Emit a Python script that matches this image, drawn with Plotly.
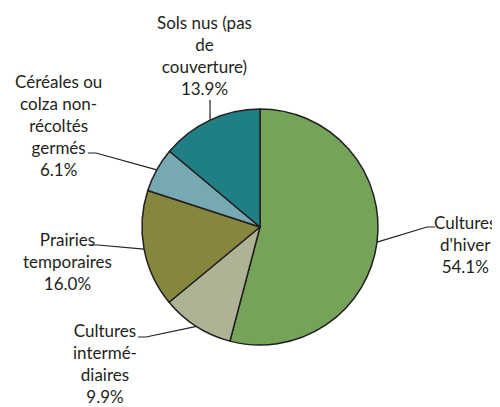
import math
import plotly.graph_objects as go

labels = ["Cultures d'hiver", "Cultures intermédiaires", "Prairies temporaires",
          "Céréales ou colza non-récoltés germés", "Sols nus (pas de couverture)"]
values = [54.1, 9.9, 16.0, 6.1, 13.9]
colors = ["#76a35a", "#adb394", "#87863d", "#77a9b3", "#1f7f84"]
label_text = [
    "Cultures<br>d'hiver<br>54.1%",
    "Cultures<br>intermé-<br>diaires<br>9.9%",
    "Prairies<br>temporaires<br>16.0%",
    "Céréales ou<br>colza non-<br>récoltés<br>germés<br>6.1%",
    "Sols nus (pas<br>de<br>couverture)<br>13.9%",
]

W, H = 500, 407
OFF = 8  # page body margin
CX, CY, R = 260, 227, 118

# label placement: text centre x, text top y, elbow point (x, y), elbow length
label_pos = [
    (465, 210, 427, 227, 8),
    (105, 318, 146, 337, -8),
    (67, 227, 98, 245, -8),
    (58, 69, 96, 153, -8),
    (204, 10, 210, 100, 0),
]

fig = go.Figure()
fig.add_trace(go.Pie(
    labels=labels, values=values, sort=False, direction="clockwise", rotation=0,
    marker=dict(colors=colors, line=dict(color="#231f20", width=1.5)),
    textinfo="none", hoverinfo="label+percent", showlegend=False,
    domain=dict(x=[(CX - R - OFF) / (W - OFF), (CX + R - OFF) / (W - OFF)],
                y=[(H - CY - R) / (H - OFF), (H - CY + R) / (H - OFF)]),
))

total = sum(values)
cum = 0
for v, txt, (tx, ty, ex, ey, el) in zip(values, label_text, label_pos):
    mid = (cum + v / 2) / total * 2 * math.pi
    cum += v
    px_ = CX + R * math.sin(mid)
    py_ = CY - R * math.cos(mid)
    path = f"M {px_},{py_} L {ex},{ey}"
    if el:
        path += f" L {ex + el},{ey}"
    fig.add_shape(type="path", path=path, xref="x", yref="y",
                  line=dict(color="#231f20", width=1.2))
    fig.add_annotation(x=tx, y=ty, xref="x", yref="y", text=txt, showarrow=False,
                       xanchor="center", yanchor="top", align="center",
                       font=dict(family="Lato", size=17, color="#231f20"))

fig.update_xaxes(range=[OFF, W], visible=False, fixedrange=True)
fig.update_yaxes(range=[H, OFF], visible=False, fixedrange=True)
fig.update_layout(
    width=W - OFF, height=H - OFF, margin=dict(l=0, r=0, t=0, b=0),
    paper_bgcolor="white", plot_bgcolor="rgba(0,0,0,0)",
)
fig.write_html("out.html")
